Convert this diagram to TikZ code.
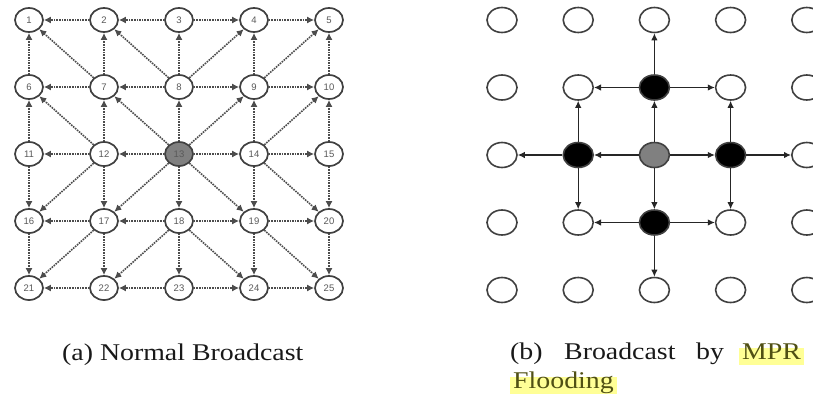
\documentclass[tikz,border=0pt]{standalone}
\usepackage{fontspec}
\setmainfont{Liberation Serif}
\setsansfont{Liberation Sans}
\newfontfamily\capfont{Liberation Serif}[FakeStretch=1.16]
\usetikzlibrary{shapes.geometric,arrows.meta}
\definecolor{hilite}{RGB}{255,255,150}
\definecolor{hitext}{RGB}{80,80,20}

\tikzset{
  lnode/.style={ellipse, draw=black!75, line width=1.7pt, minimum width=28pt, minimum height=24pt, inner sep=0pt, font=\sffamily\fontsize{9.5}{10}\selectfont, text=black!65},
  ledge/.style={densely dotted, line width=1.6pt, draw=black!70, -{Latex[length=7pt,width=7pt]}},
  rnode/.style={ellipse, draw=black!75, line width=1.6pt, minimum width=30pt, minimum height=25pt, inner sep=0pt},
  redge/.style={line width=1.2pt, draw=black!85, -{Latex[length=7pt,width=6.5pt]}},
  captext/.style={font=\capfont\fontsize{24}{28}\selectfont, text=black!90, inner sep=0pt, anchor=base west},
  hibox/.style={captext, fill=hilite, text=hitext, inner xsep=3pt, inner ysep=4pt, text height=0.72em, text depth=0.22em}
}

\begin{document}
\begin{tikzpicture}[x=1pt,y=-1pt]
\useasboundingbox (0,0) rectangle (813,394);

% (a) every node forwards
\foreach \r in {1,...,5}
  \foreach \c in {1,...,5} {
    \pgfmathtruncatemacro\num{(\r-1)*5+\c}
    \ifnum\num=13 \def\fc{black!50}\else\def\fc{white}\fi
    \node[lnode, fill=\fc] (a-\r-\c) at ({29+75*(\c-1)},{20+67*(\r-1)}) {\num};
  }

\foreach \f/\t in {2/1,3/2,3/4,4/5} {
  \foreach \k in {1,...,5} {
    \draw[ledge] (a-\k-\f) -- (a-\k-\t);
    \draw[ledge] (a-\f-\k) -- (a-\t-\k);
  }
  \foreach \g/\h in {2/1,3/2,3/4,4/5}
    \draw[ledge] (a-\f-\g) -- (a-\t-\h);
}

% (b) only the MPRs forward
\foreach \r in {1,...,5}
  \foreach \c in {1,...,5} {
    \pgfmathtruncatemacro\dist{abs(\r-3)+abs(\c-3)}
    \ifcase\dist \def\fc{black!50}\or \def\fc{black}\else \def\fc{white}\fi
    \node[rnode, fill=\fc] (b-\r-\c) at ({502+76.2*(\c-1)},{20+67.5*(\r-1)}) {};
  }

\foreach \t in {2-3,3-2,3-4,4-3}
  \draw[redge] (b-3-3) -- (b-\t);
\foreach \f/\t in {2-3/1-3, 2-3/2-2, 2-3/2-4, 3-2/3-1, 3-2/2-2, 3-2/4-2,
                   3-4/3-5, 3-4/2-4, 3-4/4-4, 4-3/4-2, 4-3/4-4, 4-3/5-3}
  \draw[redge] (b-\f) -- (b-\t);

% captions
\node[captext] (capa) at (62,360) {(a) Normal Broadcast};
\node[captext] (capb) at (510,359) {(b)};
\node[captext] (capbroad) at (564,359) {Broadcast};
\node[captext] (capby) at (696,359) {by};
\node[hibox] (capmpr) at (739,359) {MPR};
\node[hibox] (capflood) at (510,388) {Flooding};
\end{tikzpicture}
\end{document}
